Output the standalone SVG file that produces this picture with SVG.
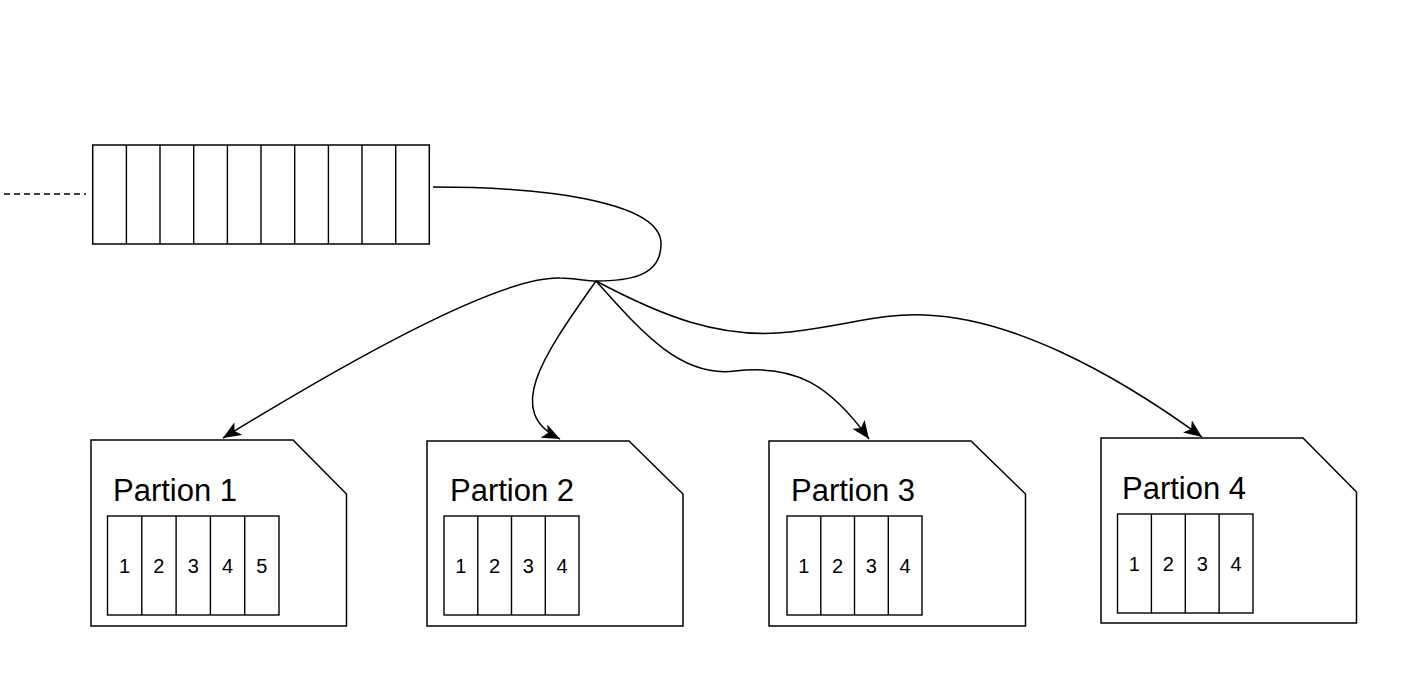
<svg xmlns="http://www.w3.org/2000/svg" width="1406" height="698" viewBox="0 0 1406 698">
<defs>
<style>
.box{fill:#fff;stroke:#000;stroke-width:1.5}
.cell{fill:none;stroke:#000;stroke-width:1.4}
.edge{fill:none;stroke:#000;stroke-width:1.5}
.title{font-family:"Liberation Sans",Arial,sans-serif;font-size:31px;fill:#000}
.num{font-family:"Liberation Sans",Arial,sans-serif;font-size:20px;fill:#000;text-anchor:middle}
</style>
<marker id="arr" markerUnits="userSpaceOnUse" markerWidth="19" markerHeight="15" viewBox="0 0 19 15" refX="18" refY="7.5" orient="auto">
<path d="M0,0 L18,7.5 L0,15 L4.5,7.5 z" fill="#000"/>
</marker>
</defs>
<rect width="1406" height="698" fill="#fff"/>

<g id="queue">
<line x1="4" y1="194" x2="86" y2="194" stroke="#000" stroke-width="1.3" stroke-dasharray="6 4"/>
<rect class="box" x="92.7" y="145" width="336.6" height="99"/>
<path class="cell" d="M126.4,145V244M160,145V244M193.7,145V244M227.4,145V244M261,145V244M294.7,145V244M328.4,145V244M362,145V244M395.7,145V244"/>
</g>

<g id="connectors">
<path class="edge" marker-end="url(#arr)" d="M433,187 C560,187 660,205 661,243 C662,278 625,281 596,281 C585,281 575,278 560,278 C500,276 350,360 223,438"/>
<path class="edge" marker-end="url(#arr)" d="M596,281 C540,360 505,412 560,439"/>
<path class="edge" marker-end="url(#arr)" d="M596,281 C640,330 680,378 735,371 C795,364 830,385 869,439"/>
<path class="edge" marker-end="url(#arr)" d="M596,281 C660,315 720,340 790,332 C850,325 880,313 925,315 C1010,318 1110,370 1202,437"/>
</g>

<g id="partition1">
<path class="box" d="M91,440 H293 L346.5,494 V626 H91 Z"/>
<text class="title" x="113" y="501">Partion 1</text>
<rect class="cell" x="107.5" y="516" width="171.5" height="99"/>
<path class="cell" d="M141.8,516V615M176.1,516V615M210.4,516V615M244.7,516V615"/>
<text class="num" x="124.6" y="573">1</text>
<text class="num" x="158.9" y="573">2</text>
<text class="num" x="193.2" y="573">3</text>
<text class="num" x="227.5" y="573">4</text>
<text class="num" x="261.8" y="573">5</text>
</g>

<g id="partition2">
<path class="box" d="M427,441 H629 L683,494 V626 H427 Z"/>
<text class="title" x="450" y="501">Partion 2</text>
<rect class="cell" x="444" y="516" width="135" height="99"/>
<path class="cell" d="M477.8,516V615M511.5,516V615M545.3,516V615"/>
<text class="num" x="460.9" y="573">1</text>
<text class="num" x="494.6" y="573">2</text>
<text class="num" x="528.4" y="573">3</text>
<text class="num" x="562.1" y="573">4</text>
</g>

<g id="partition3">
<path class="box" d="M769,441 H971 L1025.5,494 V626 H769 Z"/>
<text class="title" x="791" y="501">Partion 3</text>
<rect class="cell" x="787" y="516" width="135" height="99"/>
<path class="cell" d="M820.8,516V615M854.5,516V615M888.3,516V615"/>
<text class="num" x="803.9" y="573">1</text>
<text class="num" x="837.6" y="573">2</text>
<text class="num" x="871.4" y="573">3</text>
<text class="num" x="905.1" y="573">4</text>
</g>

<g id="partition4">
<path class="box" d="M1101,438 H1303 L1356.5,492 V623 H1101 Z"/>
<text class="title" x="1122" y="499">Partion 4</text>
<rect class="cell" x="1117.5" y="514" width="135.5" height="99"/>
<path class="cell" d="M1151.4,514V613M1185.3,514V613M1219.1,514V613"/>
<text class="num" x="1134.4" y="571">1</text>
<text class="num" x="1168.3" y="571">2</text>
<text class="num" x="1202.2" y="571">3</text>
<text class="num" x="1236" y="571">4</text>
</g>
</svg>
